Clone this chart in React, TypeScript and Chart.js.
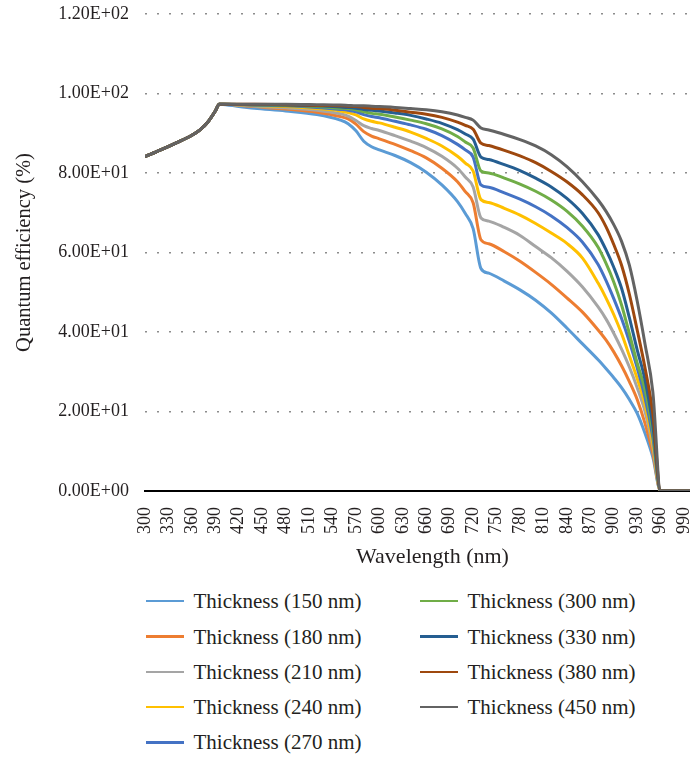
import React, { useEffect, useRef } from "react";
import { Chart, registerables } from "chart.js";

Chart.register(...registerables);

// Shared short-wavelength rise (all thicknesses coincide here)
const UV_WAVELENGTHS = [300, 320, 340, 360, 370, 380, 390, 395];
const UV_EDGE = [84.1, 85.8, 87.6, 89.5, 90.8, 92.7, 95.6, 97.3];

// Wavelengths (nm) for the thickness-dependent part of each curve
const WAVELENGTHS = [
  400, 440, 480, 520, 550, 560, 570, 580, 590, 600, 620, 640, 660, 680, 700,
  710, 720, 730, 740, 760, 780, 800, 820, 840, 860, 880, 890, 900, 910, 920,
  930, 940, 950, 960, 1000,
];

// Quantum efficiency (%) per absorber thickness
const QE_150 = [97.2, 96.3, 95.6, 94.7, 93.3, 92.4, 90.6, 88.0, 86.6, 85.8, 84.4, 82.6, 80.2, 77.0, 72.8, 69.8, 66.0, 56.0, 54.8, 52.8, 50.6, 48.0, 44.8, 41.0, 37.0, 33.0, 30.8, 28.5, 26.0, 23.0, 19.5, 14.5, 8.5, 0, 0];
const QE_180 = [97.3, 96.7, 96.1, 95.3, 94.2, 93.6, 92.3, 90.4, 89.3, 88.6, 87.2, 85.6, 83.8, 81.2, 77.8, 75.3, 72.5, 63.2, 62.2, 60.2, 57.8, 55.0, 52.0, 48.6, 45.0, 40.5, 38.0, 35.0, 31.5, 27.5, 23.0, 17.0, 9.5, 0, 0];
const QE_210 = [97.3, 96.8, 96.4, 95.8, 94.9, 94.3, 93.2, 91.9, 91.2, 90.7, 89.4, 88.0, 86.4, 84.2, 81.2, 79.0, 76.5, 68.7, 67.9, 66.3, 64.3, 61.5, 58.7, 55.3, 51.3, 46.3, 43.3, 39.7, 35.7, 31.2, 26.0, 20.0, 11.0, 0, 0];
const QE_240 = [97.3, 97.0, 96.7, 96.2, 95.6, 95.2, 94.6, 93.6, 93.0, 92.6, 91.5, 90.3, 88.7, 86.8, 84.2, 82.5, 80.5, 73.3, 72.6, 71.1, 69.4, 67.3, 64.9, 62.3, 58.6, 52.3, 48.6, 44.4, 39.6, 34.0, 28.3, 21.8, 12.0, 0, 0];
const QE_270 = [97.3, 97.1, 96.9, 96.5, 96.0, 95.8, 95.4, 94.7, 94.2, 93.9, 93.0, 92.1, 91.0, 89.4, 87.2, 85.8, 84.0, 77.0, 76.4, 75.0, 73.4, 71.5, 69.2, 66.3, 62.6, 57.0, 53.0, 48.4, 43.4, 37.6, 31.0, 23.5, 13.5, 0, 0];
const QE_300 = [97.3, 97.2, 97.0, 96.7, 96.3, 96.2, 95.9, 95.4, 95.0, 94.8, 94.1, 93.3, 92.4, 91.1, 89.2, 87.8, 86.3, 80.5, 80.0, 78.7, 77.2, 75.4, 73.2, 70.4, 66.6, 61.3, 57.3, 52.6, 46.8, 39.6, 32.2, 25.5, 15.0, 0, 0];
const QE_330 = [97.3, 97.2, 97.1, 96.9, 96.6, 96.5, 96.3, 96.0, 95.8, 95.6, 95.1, 94.5, 93.6, 92.5, 90.9, 89.8, 88.5, 84.0, 83.4, 82.1, 80.6, 78.7, 76.5, 73.6, 69.8, 64.5, 60.7, 56.3, 51.0, 43.6, 35.5, 28.0, 16.5, 0, 0];
const QE_380 = [97.3, 97.3, 97.2, 97.0, 96.9, 96.8, 96.7, 96.5, 96.3, 96.2, 95.8, 95.3, 94.8, 94.0, 92.8, 92.0, 91.0, 87.5, 86.9, 85.7, 84.3, 82.6, 80.4, 77.8, 74.5, 70.0, 66.5, 62.0, 56.8, 49.5, 40.5, 31.0, 19.5, 0, 0];
const QE_450 = [97.3, 97.3, 97.3, 97.2, 97.1, 97.0, 96.9, 96.9, 96.8, 96.7, 96.5, 96.2, 95.9, 95.4, 94.6, 94.0, 93.3, 91.3, 90.8, 89.7, 88.4, 86.8, 84.6, 81.6, 77.8, 73.2, 70.4, 67.0, 62.8, 56.8, 47.8, 37.0, 25.0, 0, 0];

const SERIES_LABELS = [
  "Thickness (150 nm)",
  "Thickness (180 nm)",
  "Thickness (210 nm)",
  "Thickness (240 nm)",
  "Thickness (270 nm)",
  "Thickness (300 nm)",
  "Thickness (330 nm)",
  "Thickness (380 nm)",
  "Thickness (450 nm)",
];
const SERIES_VALUES = [QE_150, QE_180, QE_210, QE_240, QE_270, QE_300, QE_330, QE_380, QE_450];
const SERIES_COLORS = [
  "#5B9BD5",
  "#ED7D31",
  "#A5A5A5",
  "#FFC000",
  "#4472C4",
  "#70AD47",
  "#255E91",
  "#9E480E",
  "#636363",
];

const X_TICKS = [
  300, 330, 360, 390, 420, 450, 480, 510, 540, 570, 600, 630, 660, 690, 720,
  750, 780, 810, 840, 870, 900, 930, 960, 990,
];
const Y_TICKS = [0, 20, 40, 60, 80, 100, 120];

const FONT = "'Liberation Serif', 'Times New Roman', serif";
const TEXT = "#231F20";

function sci(v: number): string {
  if (v === 0) return "0.00E+00";
  const e = Math.floor(Math.log10(Math.abs(v)));
  const m = v / Math.pow(10, e);
  return `${m.toFixed(2)}E${e < 0 ? "-" : "+"}${String(Math.abs(e)).padStart(2, "0")}`;
}

export default function App() {
  const canvasRef = useRef<HTMLCanvasElement | null>(null);

  useEffect(() => {
    const canvas = canvasRef.current;
    if (!canvas) return;

    const datasets = SERIES_LABELS.map((label, i) => ({
      label,
      data: [
        ...UV_WAVELENGTHS.map((x, j) => ({ x, y: UV_EDGE[j] })),
        ...WAVELENGTHS.map((x, j) => ({ x, y: SERIES_VALUES[i][j] })),
      ],
      borderColor: SERIES_COLORS[i],
      backgroundColor: SERIES_COLORS[i],
      borderWidth: 3,
      borderJoinStyle: "round" as const,
      pointRadius: 0,
      fill: false,
      cubicInterpolationMode: "monotone" as const,
      order: SERIES_LABELS.length - i,
    }));

    const chart = new Chart(canvas, {
      type: "line",
      data: { datasets },
      options: {
        responsive: false,
        animation: false,
        layout: { padding: { top: 14, right: 0, bottom: 0, left: 0 } },
        plugins: {
          legend: { display: false },
          tooltip: { enabled: false },
        },
        scales: {
          x: {
            type: "linear",
            min: 300,
            max: 1036,
            grid: {
              display: true,
              drawOnChartArea: false,
              drawTicks: true,
              tickLength: 16,
              tickColor: "rgba(0,0,0,0)",
            },
            border: { display: true, color: "#000000", width: 2 },
            afterBuildTicks: (scale: any) => {
              scale.ticks = X_TICKS.map((value) => ({ value }));
            },
            afterFit: (scale: any) => {
              scale.height = 89;
            },
            ticks: {
              autoSkip: false,
              minRotation: 90,
              maxRotation: 90,
              padding: 0,
              color: TEXT,
              font: { family: FONT, size: 18 },
              callback: (v: any) => String(v),
            },
            title: {
              display: true,
              text: "Wavelength (nm)",
              color: TEXT,
              font: { family: FONT, size: 22 },
              padding: { top: 0, bottom: 10 },
            },
          },
          y: {
            type: "linear",
            min: 0,
            max: 120,
            afterBuildTicks: (scale: any) => {
              scale.ticks = Y_TICKS.map((value) => ({ value }));
            },
            afterFit: (scale: any) => {
              scale.width = 145;
            },
            grid: {
              display: true,
              drawOnChartArea: true,
              drawTicks: true,
              tickLength: 16,
              tickColor: "rgba(0,0,0,0)",
              color: "#8C8C8C",
              lineWidth: 1.5,
            },
            border: { display: false, dash: [2, 10] },
            ticks: {
              padding: 0,
              color: TEXT,
              font: { family: FONT, size: 18 },
              callback: (v: any) => sci(Number(v)),
            },
            title: {
              display: true,
              text: "Quantum efficiency (%)",
              color: TEXT,
              font: { family: FONT, size: 20.5 },
              padding: { top: 12, bottom: 0 },
            },
          },
        },
      },
    });

    return () => chart.destroy();
  }, []);

  return (
    <div
      style={{
        position: "absolute",
        left: 0,
        top: 0,
        width: 690,
        height: 757,
        overflow: "hidden",
        background: "#ffffff",
      }}
    >
      <canvas
        ref={canvasRef}
        width={720}
        height={580}
        style={{ display: "block", width: 720, height: 580 }}
      />
      <div
        style={{
          position: "absolute",
          left: 146,
          top: 583.6,
          display: "grid",
          gridTemplateColumns: "274px 274px",
          gridTemplateRows: "repeat(5, 35.3px)",
          gridAutoFlow: "column",
          fontFamily: FONT,
          fontSize: 21,
          color: TEXT,
        }}
      >
        {SERIES_LABELS.map((label, i) => (
          <div
            key={label}
            style={{ display: "flex", alignItems: "center", whiteSpace: "nowrap" }}
          >
            <span
              style={{
                display: "inline-block",
                width: 38,
                height: 2.5,
                marginRight: 9.5,
                background: SERIES_COLORS[i],
              }}
            />
            <span style={{ lineHeight: "24px" }}>{label}</span>
          </div>
        ))}
      </div>
    </div>
  );
}
